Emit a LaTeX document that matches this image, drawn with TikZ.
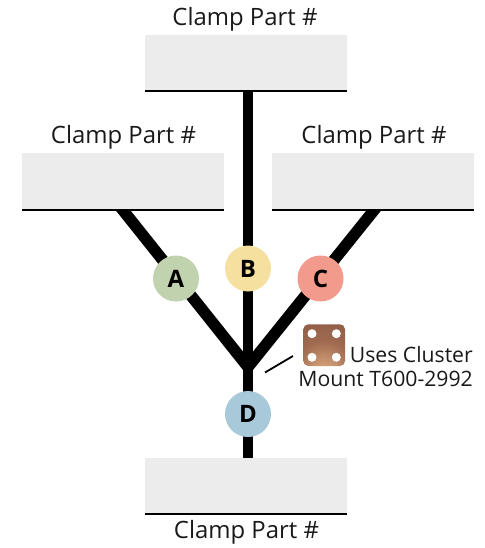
\documentclass[tikz,border=0pt]{standalone}
\usepackage{fontspec}
\setmainfont{Open Sans}
\definecolor{boxgrey}{HTML}{ECECEC}
\definecolor{cga}{HTML}{C0D3AE}
\definecolor{cgb}{HTML}{F5E09F}
\definecolor{cgc}{HTML}{F29B8C}
\definecolor{cgd}{HTML}{A8C9D9}
\definecolor{copperdark}{HTML}{7F4E3C}
\definecolor{coppermid}{HTML}{A06B50}
\definecolor{copperlight}{HTML}{CF9C76}
\definecolor{glow}{HTML}{EBCF9E}
\pgfdeclareradialshading{copperplate}{\pgfpoint{0bp}{-40bp}}{
  color(0bp)=(glow); color(12bp)=(copperlight); color(32bp)=(coppermid); color(70bp)=(copperdark); color(100bp)=(copperdark)}
\tikzset{
  px/.style={x=1pt,y=-1pt},
  partbox/.style={fill=boxgrey,draw=none,minimum width=202pt,minimum height=56pt,inner sep=0pt,outer sep=0pt},
  lbl/.style={font=\fontsize{23.9pt}{28pt}\selectfont,text=black!90,inner sep=0pt},
  note/.style={font=\fontsize{21.2pt}{25pt}\selectfont,text=black!90,inner sep=0pt},
  strut/.style={line width=10.5pt,black},
  brace/.style={line width=11.5pt,black},
  rule/.style={line width=2pt,black},
  badge/.style={circle,minimum size=46pt,inner sep=0pt,font=\fontsize{24pt}{28pt}\selectfont\bfseries,text=black},
  hole/.style={circle,fill=white,minimum size=9pt,inner sep=0pt}
}
\begin{document}
\begin{tikzpicture}[px]
\useasboundingbox (0,0) rectangle (484,548);
\coordinate (hub) at (248,367);
\coordinate (lfoot) at (114,199);
\coordinate (rfoot) at (383,199);
\draw[brace] (lfoot) -- (hub);
\draw[brace] (rfoot) -- (hub);
\node[partbox,anchor=north west] (top) at (145,35) {};
\node[partbox,anchor=north west] (left) at (22,153.5) {};
\node[partbox,anchor=north west] (right) at (272,153.5) {};
\node[partbox,anchor=north west] (bottom) at (145,458) {};
\draw[strut] (top.south -| 248,0) -- (248,458);
\draw[rule] (top.south west) -- (top.south east);
\draw[rule] (left.south west) -- (left.south east);
\draw[rule] (right.south west) -- (right.south east);
\draw[rule] (bottom.south west) -- (bottom.south east);
\node[badge,fill=cga] (A) at (176,278.5) {A};
\node[badge,fill=cgb] (B) at (248,268.5) {B};
\node[badge,fill=cgc] (C) at (320.5,278.5) {C};
\node[badge,fill=cgd] (D) at (248,414) {D};
\node[lbl] (ltop) at (245,19.5) {Clamp Part \#};
\node[lbl] (lleft) at (123.5,137) {Clamp Part \#};
\node[lbl] (lright) at (374,137) {Clamp Part \#};
\node[lbl] (lbottom) at (246.5,532) {Clamp Part \#};
\shade[rounded corners=5pt,shading=copperplate] (303.3,324.3) rectangle (345,366);
\node[hole] (h1) at (312,333.7) {};
\node[hole] (h2) at (336.3,333.7) {};
\node[hole] (h3) at (312,357.3) {};
\node[hole] (h4) at (336.3,357.3) {};
\node[note,anchor=east] (n1) at (473,354.5) {Uses Cluster};
\node[note,anchor=east] (n2) at (473,378.5) {Mount T600-2992};
\coordinate (la) at (265,372.5);
\coordinate (lb) at (293,356);
\draw[line width=1.8pt,black] (la) -- (lb);
\end{tikzpicture}
\end{document}
